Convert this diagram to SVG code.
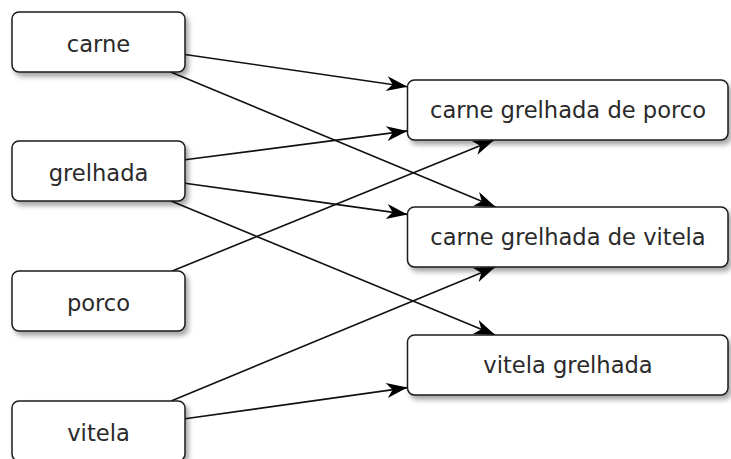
<svg xmlns="http://www.w3.org/2000/svg" width="731" height="459" viewBox="0 0 731 459">
<style>
.box{fill:#fff;stroke:#1a1a1a;stroke-width:1.5;filter:url(#sh)}
.lbl{font-family:"DejaVu Sans",sans-serif;font-size:22.6px;fill:#2a2a2a;text-anchor:middle}
.edge{stroke:#111;stroke-width:1.6;fill:none;marker-end:url(#arr)}
</style>
<defs>
<filter id="sh" x="-10%" y="-20%" width="130%" height="150%">
<feDropShadow dx="3" dy="4" stdDeviation="2.5" flood-color="#000" flood-opacity="0.35"/>
</filter>
<marker id="arr" markerUnits="userSpaceOnUse" markerWidth="24" markerHeight="20" viewBox="-22 -10 24 20" refX="0" refY="0" orient="auto">
<path d="M0,0 L-21,-7.5 L-15,0 L-21,7.5 Z" fill="#000"/>
</marker>
</defs>
<g id="connectors">
<line class="edge" x1="185" y1="54.5" x2="407.5" y2="86.7"/>
<line class="edge" x1="170.7" y1="72" x2="495.6" y2="207"/>
<line class="edge" x1="185" y1="159.8" x2="407.5" y2="130.9"/>
<line class="edge" x1="185" y1="183.2" x2="407.5" y2="214.4"/>
<line class="edge" x1="171.1" y1="201" x2="495.2" y2="335"/>
<line class="edge" x1="172.2" y1="271" x2="494.1" y2="140"/>
<line class="edge" x1="171.1" y1="401" x2="495.2" y2="267"/>
<line class="edge" x1="185" y1="418.8" x2="407.5" y2="387.6"/>
</g>
<g id="carne"><rect class="box" x="12" y="12" width="173" height="60" rx="7"/><text class="lbl" x="98.5" y="51.5">carne</text></g>
<g id="grelhada"><rect class="box" x="12" y="141" width="173" height="60" rx="7"/><text class="lbl" x="98.5" y="180.5">grelhada</text></g>
<g id="porco"><rect class="box" x="12" y="271" width="173" height="60" rx="7"/><text class="lbl" x="98.5" y="310.5">porco</text></g>
<g id="vitela"><rect class="box" x="12" y="401" width="173" height="60" rx="7"/><text class="lbl" x="98.5" y="440.5">vitela</text></g>
<g id="carne-grelhada-de-porco"><rect class="box" x="407.5" y="80" width="320.5" height="60" rx="7"/><text class="lbl" x="568" y="118">carne grelhada de porco</text></g>
<g id="carne-grelhada-de-vitela"><rect class="box" x="407.5" y="207" width="320.5" height="60" rx="7"/><text class="lbl" x="568" y="245">carne grelhada de vitela</text></g>
<g id="vitela-grelhada"><rect class="box" x="407.5" y="335" width="320.5" height="60" rx="7"/><text class="lbl" x="568" y="373">vitela grelhada</text></g>
</svg>
